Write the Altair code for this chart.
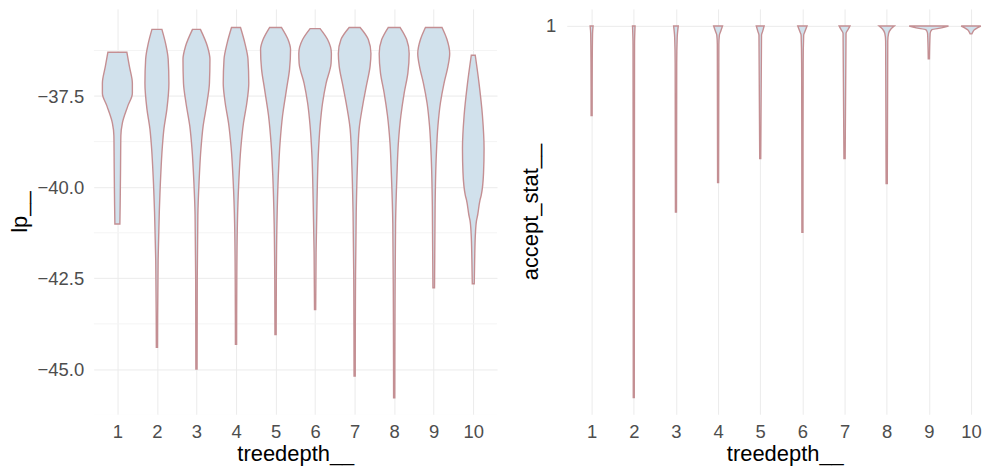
import altair as alt
import pandas as pd

# ---------------- data ----------------
treedepth = [1, 2, 3, 4, 5, 6, 7, 8, 9, 10]

# lp__ violin profiles: level (lp__) and half-width (in category units)
lp_y_1 = [-36.30, -36.68, -37.15, -37.42, -37.77, -38.24, -38.59, -39.50, -40.50, -41.01]
lp_w_1 = [0.240, 0.303, 0.379, 0.379, 0.265, 0.126, 0.088, 0.080, 0.070, 0.063]
lp_y_2 = [-35.67, -36.06, -36.49, -37.15, -37.85, -38.40, -38.94, -39.68, -40.69, -42.00, -43.50, -44.39]
lp_w_2 = [0.126, 0.220, 0.285, 0.303, 0.253, 0.177, 0.134, 0.096, 0.060, 0.030, 0.018, 0.015]
lp_y_3 = [-35.67, -36.14, -36.49, -37.15, -37.69, -38.32, -38.94, -39.87, -40.77, -42.50, -44.99]
lp_w_3 = [0.100, 0.278, 0.341, 0.328, 0.265, 0.169, 0.114, 0.065, 0.035, 0.020, 0.015]
lp_y_4 = [-35.62, -36.06, -36.49, -37.15, -37.69, -38.24, -38.94, -39.87, -41.00, -42.50, -44.31]
lp_w_4 = [0.114, 0.227, 0.303, 0.323, 0.273, 0.189, 0.121, 0.070, 0.035, 0.020, 0.015]
lp_y_5 = [-35.62, -35.95, -36.22, -36.76, -37.31, -38.04, -38.78, -39.68, -41.00, -42.50, -44.04]
lp_w_5 = [0.152, 0.316, 0.379, 0.354, 0.278, 0.177, 0.114, 0.070, 0.035, 0.020, 0.015]
lp_y_6 = [-35.65, -35.95, -36.33, -36.60, -37.15, -37.69, -38.32, -39.13, -40.31, -41.80, -43.36]
lp_w_6 = [0.126, 0.316, 0.412, 0.404, 0.278, 0.189, 0.126, 0.080, 0.050, 0.025, 0.015]
lp_y_7 = [-35.62, -35.95, -36.33, -36.68, -37.23, -37.77, -38.40, -39.41, -40.70, -43.00, -45.18]
lp_w_7 = [0.139, 0.346, 0.412, 0.391, 0.295, 0.202, 0.114, 0.070, 0.040, 0.020, 0.015]
lp_y_8 = [-35.62, -35.95, -36.33, -36.87, -37.42, -38.04, -38.78, -39.68, -41.00, -43.50, -45.78]
lp_w_8 = [0.152, 0.316, 0.379, 0.346, 0.253, 0.169, 0.106, 0.070, 0.035, 0.020, 0.015]
lp_y_9 = [-35.62, -35.95, -36.33, -36.68, -37.15, -37.69, -38.32, -39.13, -40.50, -42.76]
lp_w_9 = [0.210, 0.336, 0.404, 0.361, 0.260, 0.169, 0.106, 0.065, 0.035, 0.020]
lp_y_10 = [-36.38, -37.15, -38.04, -38.94, -39.60, -40.22, -40.36, -40.77, -40.90, -41.26, -42.00, -42.65]
lp_w_10 = [0.050, 0.146, 0.232, 0.273, 0.260, 0.202, 0.169, 0.110, 0.085, 0.055, 0.035, 0.025]

# accept_stat__ violin profiles
acc_y_1 = [1.0, 0.98, 0.9, 0.759]
acc_w_1 = [0.035, 0.022, 0.015, 0.012]
acc_y_2 = [1.0, 0.95, 0.5, 0.0]
acc_w_2 = [0.03, 0.018, 0.014, 0.012]
acc_y_3 = [1.0, 0.97, 0.9, 0.499]
acc_w_3 = [0.055, 0.03, 0.018, 0.012]
acc_y_4 = [1.0, 0.985, 0.975, 0.95, 0.579]
acc_w_4 = [0.105, 0.06, 0.03, 0.018, 0.012]
acc_y_5 = [1.0, 0.985, 0.975, 0.643]
acc_w_5 = [0.093, 0.055, 0.03, 0.012]
acc_y_6 = [1.0, 0.985, 0.975, 0.9, 0.445]
acc_w_6 = [0.11, 0.06, 0.03, 0.018, 0.012]
acc_y_7 = [1.0, 0.99, 0.98, 0.643]
acc_w_7 = [0.128, 0.08, 0.035, 0.014]
acc_y_8 = [1.0, 0.992, 0.98, 0.96, 0.576]
acc_w_8 = [0.18, 0.1, 0.045, 0.025, 0.014]
acc_y_9 = [1.0, 0.995, 0.99, 0.98, 0.912]
acc_w_9 = [0.466, 0.3, 0.07, 0.03, 0.014]
acc_y_10 = [1.0, 0.995, 0.99, 0.982, 0.979]
acc_w_10 = [0.233, 0.15, 0.08, 0.035, 0.02]

lp_ticks = [-45.0, -42.5, -40.0, -37.5]
lp_minor = [-46.25, -43.75, -41.25, -38.75, -36.25]
acc_ticks = [1]

lp_profiles = [(lp_y_1, lp_w_1), (lp_y_2, lp_w_2), (lp_y_3, lp_w_3), (lp_y_4, lp_w_4),
               (lp_y_5, lp_w_5), (lp_y_6, lp_w_6), (lp_y_7, lp_w_7), (lp_y_8, lp_w_8),
               (lp_y_9, lp_w_9), (lp_y_10, lp_w_10)]
acc_profiles = [(acc_y_1, acc_w_1), (acc_y_2, acc_w_2), (acc_y_3, acc_w_3), (acc_y_4, acc_w_4),
                (acc_y_5, acc_w_5), (acc_y_6, acc_w_6), (acc_y_7, acc_w_7), (acc_y_8, acc_w_8),
                (acc_y_9, acc_w_9), (acc_y_10, acc_w_10)]


def build(profiles, name):
    rows = []
    for td, (ys, ws) in zip(treedepth, profiles):
        for y, w in zip(ys, ws):
            rows.append({"treedepth": td, name: y, "w": w})
    return pd.DataFrame(rows).sort_values(["treedepth", name]).reset_index(drop=True)


lp_df = build(lp_profiles, "lp")
acc_df = build(acc_profiles, "acc")

FILL = "#d1e1ec"
STROKE = "#c48f93"
GRID = "#ebebeb"
LABEL = "#4d4d4d"
FONT = "Liberation Sans"

H = 407
LP_DOMAIN = [-46.23, -35.11]
ACC_DOMAIN = [-0.045, 1.046]
RIGHT_W = 414


def x_axis(**extra):
    return alt.Axis(values=treedepth, format="d", title="treedepth__", ticks=False,
                    domain=False, grid=True, gridColor=GRID, labelPadding=8,
                    titlePadding=3, labelFontSize=18.5, titleFontSize=22,
                    labelColor=LABEL, titleColor="#000000", titleFontWeight="normal",
                    labelFont=FONT, titleFont=FONT, **extra)


def y_axis(values, fmt, title, label_pad, title_pad):
    return alt.Axis(values=values, format=fmt, title=title, ticks=False,
                    domain=False, grid=True, gridColor=GRID, labelPadding=label_pad,
                    titlePadding=title_pad, labelFontSize=18.5, titleFontSize=22,
                    labelColor=LABEL, titleColor="#000000", titleFontWeight="normal",
                    labelFont=FONT, titleFont=FONT)


# ---------------- left panel: lp__ ----------------
minor_df = pd.DataFrame({"v": lp_minor})
lp_minor_rules = alt.Chart(minor_df).mark_rule(color="#f4f4f4", strokeWidth=1, clip=True).encode(
    y=alt.Y("v:Q", scale=alt.Scale(domain=LP_DOMAIN, nice=False, zero=False))
)

lp_violin = alt.Chart(lp_df).transform_calculate(
    xlo="datum.treedepth - datum.w", xhi="datum.treedepth + datum.w"
).mark_area(orient="horizontal", interpolate="monotone", fill=FILL, stroke=STROKE,
            strokeWidth=1.4, fillOpacity=1).encode(
    y=alt.Y("lp:Q", scale=alt.Scale(domain=LP_DOMAIN, nice=False, zero=False),
            axis=y_axis(lp_ticks, ".1f", "lp__", 10, 6)),
    x=alt.X("xlo:Q", scale=alt.Scale(domain=[0.4, 10.6], nice=False, zero=False), axis=x_axis()),
    x2="xhi:Q",
    detail="treedepth:N",
)

left = alt.layer(lp_minor_rules, lp_violin).properties(width=405, height=H)

# ---------------- right panel: accept_stat__ ----------------
acc_violin = alt.Chart(acc_df).transform_calculate(
    xlo="datum.treedepth - datum.w", xhi="datum.treedepth + datum.w"
).mark_area(orient="horizontal", interpolate="monotone", fill=FILL, stroke=STROKE,
            strokeWidth=1.4, fillOpacity=1).encode(
    y=alt.Y("acc:Q", scale=alt.Scale(domain=ACC_DOMAIN, nice=False, zero=False),
            axis=y_axis(acc_ticks, "d", "accept_stat__", 11, 3)),
    x=alt.X("xlo:Q", scale=alt.Scale(domain=[0.409, 10.19], nice=False, zero=False),
            axis=x_axis(titleX=219)),
    x2="xhi:Q",
    detail="treedepth:N",
).properties(width=RIGHT_W, height=H)

chart = (
    alt.hconcat(left, acc_violin, spacing=22)
    .properties(padding=0)
    .configure(font=FONT)
    .configure_view(strokeWidth=0, stroke=None)
)

chart.save("out.html", embed_options={"renderer": "svg", "actions": False})
